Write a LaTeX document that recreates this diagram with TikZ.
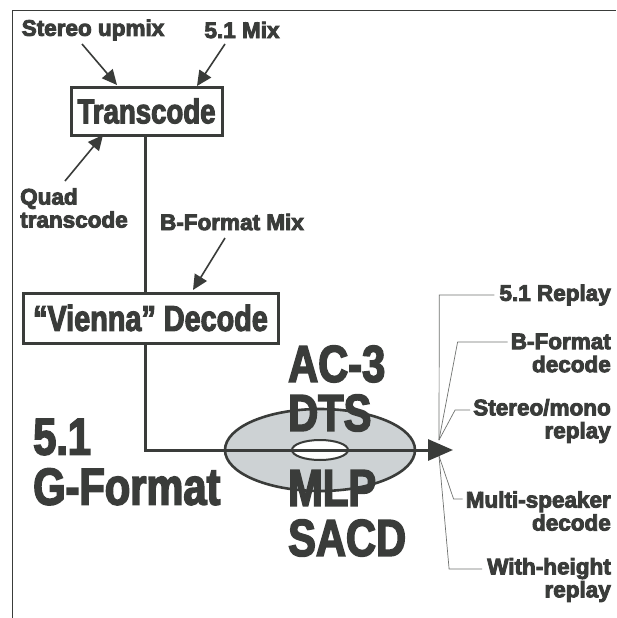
\documentclass[tikz,border=0pt]{standalone}
\usepackage{fontspec}
\usepackage{tikz}
\usetikzlibrary{arrows.meta,shapes.geometric}
\setmainfont{Liberation Sans}
\newfontfamily\labelface[FakeBold=4]{Liberation Sans Bold}
\newfontfamily\titleface[FakeStretch=0.8,FakeBold=3]{Liberation Sans Bold}
\definecolor{ink}{HTML}{3A3C3A}
\definecolor{softink}{HTML}{707270}
\definecolor{discfill}{HTML}{CDD2D4}
\tikzset{
  % --- nodes
  lbl/.style     = {font=\labelface\fontsize{22.5}{23}\selectfont, text=ink, inner sep=0pt},
  replay/.style  = {lbl, anchor=east, align=right},
  big/.style     = {font=\titleface\fontsize{52}{50}\selectfont, text=ink, inner sep=0pt, anchor=west, align=left},
  boxed/.style   = {draw=ink, line width=3pt, fill=white, inner sep=0pt, text=ink},
  disc/.style    = {ellipse, draw=ink, line width=2.6pt, inner sep=0pt},
  % --- edges
  trunk/.style   = {draw=ink, line width=3pt},
  arr/.style     = {-{Triangle[length=15pt,width=14pt]}, draw=ink, line width=1.6pt},
  leader/.style  = {draw=softink, line width=0.7pt},
}
\begin{document}
\begin{tikzpicture}[x=1pt,y=-1pt]
  \useasboundingbox (0,0) rectangle (616,618);
  \fill[white] (0,0) rectangle (616,618);
  \draw[draw=ink,line width=0.8pt] (12.5,618) -- (12.5,10.5) -- (616,10.5);
  % disc
  \node[disc, fill=discfill, minimum width=190pt, minimum height=82pt] (cd) at (320,450) {};
  \node[disc, fill=white, line width=2pt, minimum width=56pt, minimum height=20pt] (hole) at (320,450) {};
  % boxes
  \node[boxed, minimum width=151pt, minimum height=48pt,
        font=\titleface\fontsize{34.5}{37}\selectfont] (transcode) at (146.5,111) {Transcode};
  \node[boxed, minimum width=255pt, minimum height=50pt,
        font=\titleface\fontsize{36}{34}\selectfont] (vienna) at (150.5,318) {“Vienna” Decode};
  \coordinate (outlet) at (453,450);
  \draw[trunk] (transcode.south -| 145,0) -- (vienna.north -| 145,0);
  \draw[trunk] (vienna.south -| 145,0) |- (cd.west);
  \draw[trunk,-{Triangle[length=25pt,width=21pt]}] (cd.west) -- (outlet);
  % inputs
  \node[lbl] (upmix) at (93,30) {Stereo upmix};
  \node[lbl] (mix) at (242,30) {5.1 Mix};
  \node[lbl, anchor=west, align=left] (quad) at (20,208) {Quad\\transcode};
  \node[lbl] (bformat) at (232,222) {B-Format Mix};
  \coordinate (upmixin) at (117,85);
  \coordinate (mixin) at (197,86);
  \coordinate (quadin) at (103,135);
  \coordinate (bformatin) at (193,290);
  \draw[arr] (82,44) -- (upmixin);
  \draw[arr] (225,44) -- (mixin);
  \draw[arr] (65,181) -- (quadin);
  \draw[arr] (225,238) -- (bformatin);
  % formats
  \node[big] (gformat) at (33,462) {5.1\\G-Format};
  \node[big] (ac) at (288,364) {AC-3};
  \node[big] (dts) at (288,413) {DTS};
  \node[big] (mlp) at (288,488) {MLP};
  \node[big] (sacd) at (288,538) {SACD};
  % outputs
  \node[replay] (r1) at (611,295) {5.1 Replay};
  \node[replay] (r2) at (611,353) {B-Format\\decode};
  \node[replay] (r3) at (611,421) {Stereo/mono\\replay};
  \node[replay] (r4) at (611,511) {Multi-speaker\\decode};
  \node[replay] (r5) at (611,580) {With-height\\replay};
  \coordinate (hub) at (439,440);
  \coordinate (hubb) at (439,456);
  \draw[leader] (r1.west) ++(-5,0) -- ++(-55,0) -- (hub);
  \draw[leader] (r2.west) ++(-3,-11) -- ++(-50,0) -- (hub);
  \draw[leader] (r3.west) ++(-3,-11) -- ++(-15,0) -- (hub);
  \draw[leader] (r4.west) ++(-3,-12) -- ++(-9,0) -- (hubb);
  \draw[leader] (r5.west) ++(-5,-11) -- ++(-33,0) -- (hubb);
\end{tikzpicture}
\end{document}
